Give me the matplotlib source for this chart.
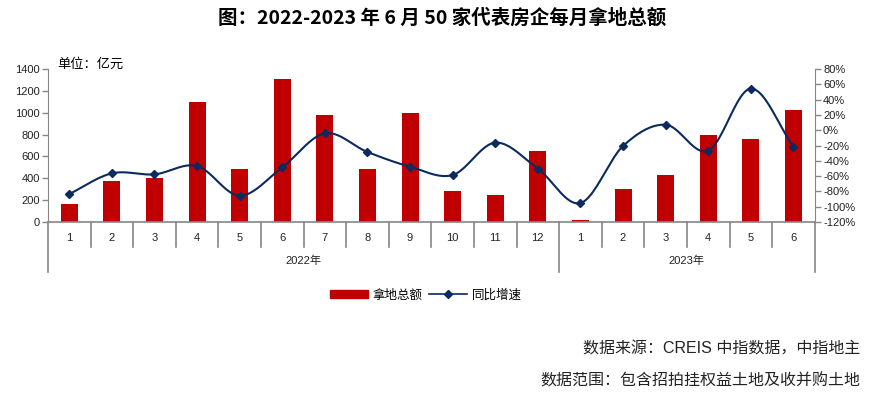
import numpy as np
import matplotlib
matplotlib.use('Agg')
import matplotlib.pyplot as plt
import matplotlib.transforms as mtransforms
from matplotlib.lines import Line2D
from matplotlib.patches import Patch

plt.rcParams['font.family'] = ['Liberation Sans', 'Noto Sans CJK SC', 'DejaVu Sans']

# data
months = ['1', '2', '3', '4', '5', '6', '7', '8', '9', '10', '11', '12',
          '1', '2', '3', '4', '5', '6']
years = ['2022年', '2023年']
year_counts = [12, 6]
land_total = [165, 376, 404, 1094, 489, 1311, 981, 489, 994, 284, 248, 654,
              18, 306, 431, 798, 755, 1027]
yoy_growth = [-83.4, -56.4, -57.7, -46.8, -85.6, -48.5, -4.1, -28.5, -47.7,
              -58.6, -16.3, -50.3, -95.2, -20.7, 7.2, -26.8, 54.3, -21.5]

bar_color = '#C00000'
line_color = '#0B2A5E'
axis_color = '#868686'
cjk = ['Noto Sans CJK SC', 'DejaVu Sans']


def catmull_rom(xs, ys, n=24):
    # smooth line like Excel's "smoothed line" option
    pts = np.column_stack([xs, ys]).astype(float)
    padded = np.vstack([2 * pts[0] - pts[1], pts, 2 * pts[-1] - pts[-2]])
    out = []
    t = np.linspace(0, 1, n, endpoint=False)[:, None]
    for i in range(1, len(padded) - 2):
        p0, p1, p2, p3 = padded[i - 1:i + 3]
        seg = 0.5 * ((2 * p1) + (-p0 + p2) * t
                     + (2 * p0 - 5 * p1 + 4 * p2 - p3) * t ** 2
                     + (-p0 + 3 * p1 - 3 * p2 + p3) * t ** 3)
        out.append(seg)
    out.append(pts[-1:])
    return np.vstack(out)


fig = plt.figure(figsize=(8.84, 3.97), dpi=100)
ax = fig.add_axes([48 / 884, 1 - 222 / 397, (814.7 - 48) / 884, 153 / 397])
ax2 = ax.twinx()

x = np.arange(len(months))
ax.bar(x, land_total, width=0.4, color=bar_color, zorder=2)
ax.set_xlim(-0.5, len(months) - 0.5)
ax.set_ylim(0, 1400)
ax.set_yticks(range(0, 1401, 200))

smooth = catmull_rom(x, yoy_growth)
ax2.plot(smooth[:, 0], smooth[:, 1], color=line_color, lw=1.5, zorder=3)
ax2.plot(x, yoy_growth, ls='none', marker='D', ms=4.5, color=line_color, zorder=4)
ax2.set_ylim(-120, 80)
ax2.set_yticks(range(-120, 81, 20))
ax2.set_yticklabels([f'{v}%' for v in range(-120, 81, 20)])

for a in (ax, ax2):
    for s in a.spines.values():
        s.set_visible(False)
    a.tick_params(axis='y', labelsize=8, colors=axis_color, length=4,
                  width=1, labelcolor='#222222', pad=2)
ax.spines['left'].set_visible(True)
ax.spines['left'].set_color(axis_color)
ax.spines['bottom'].set_visible(True)
ax.spines['bottom'].set_color(axis_color)
ax.spines['bottom'].set_linewidth(1.2)
ax2.spines['right'].set_visible(True)
ax2.spines['right'].set_color(axis_color)
ax.tick_params(axis='x', length=0, labelbottom=False)
ax2.tick_params(axis='y', left=False, right=True)

# category and year separators below the axis
trans = mtransforms.blended_transform_factory(ax.transData, ax.transAxes)
short_y, long_y = -25 / 153, -50 / 153
year_edges = np.cumsum([0] + year_counts) - 0.5
for b in np.arange(-0.5, len(months), 1.0):
    y_end = long_y if b in year_edges else short_y
    ax.plot([b, b], [0, y_end], transform=trans, color=axis_color, lw=1.2,
            clip_on=False)

for i, m in enumerate(months):
    ax.text(i, -16 / 153, m, transform=trans, ha='center', va='center',
            fontsize=8, color='#222222')
for k, yr in enumerate(years):
    mid = (year_edges[k] + year_edges[k + 1]) / 2
    ax.text(mid, -39 / 153, yr, transform=trans, ha='center', va='center',
            fontsize=8, color='#222222')

fig.text(0.5, 1 - 18 / 397, '图：2022-2023 年 6 月 50 家代表房企每月拿地总额',
         ha='center', va='center', fontsize=14, fontweight='bold', family=cjk)
fig.text(57 / 884, 1 - 64 / 397, '单位：亿元', ha='left', va='center',
         fontsize=9.5, family=cjk)

handles = [Patch(color=bar_color, label='拿地总额'),
           Line2D([], [], color=line_color, marker='D', ms=4, lw=1.2, label='同比增速')]
fig.legend(handles=handles, loc='center', bbox_to_anchor=(0.482, 1 - 295 / 397),
           ncol=2, frameon=False, handlelength=3.0, handleheight=0.55,
           columnspacing=0.5, handletextpad=0.4,
           prop={'family': cjk, 'size': 9})

fig.text(860 / 884, 1 - 349 / 397, '数据来源：CREIS 中指数据，中指地主',
         ha='right', va='center', fontsize=11.5, color='#222222')
fig.text(860 / 884, 1 - 381 / 397, '数据范围：包含招拍挂权益土地及收并购土地',
         ha='right', va='center', fontsize=11.5, color='#222222', family=cjk)

fig.savefig('out.png', dpi=100)
